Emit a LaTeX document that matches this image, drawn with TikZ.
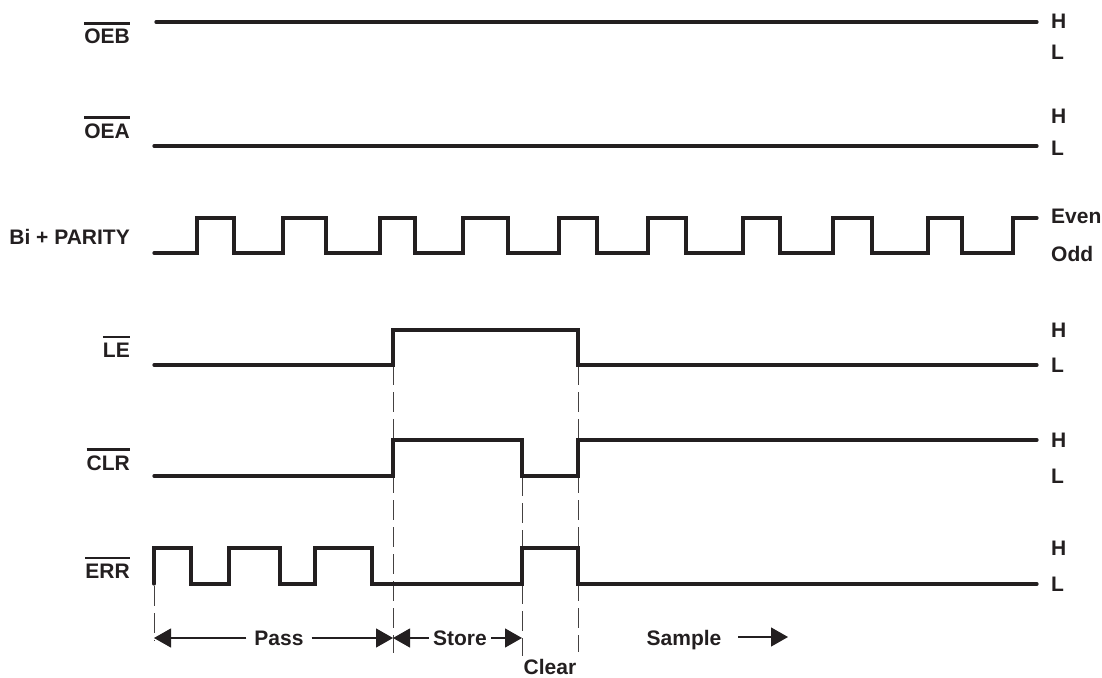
\documentclass[tikz,border=0pt]{standalone}
\usepackage{fontspec}
\setmainfont{Liberation Sans}
\usetikzlibrary{arrows.meta}
\definecolor{ink}{RGB}{35,31,32}
\newcommand\sigbar[1]{\vbox{\hrule height 2.7pt\kern 4.3pt\hbox{#1}}}
\begin{document}
\begin{tikzpicture}[x=1pt,y=-1pt,
  font=\fontsize{21}{25}\selectfont\bfseries, text=ink,
  wave/.style={line width=3.3pt, draw=ink, line cap=round, line join=miter},
  guide/.style={draw=ink!85, line width=1pt, dash pattern=on 20pt off 7pt},
  span/.style={draw=ink, line width=1.2pt},
  tip/.style={-{Triangle[length=17pt,width=19pt]}},
  siglabel/.style={anchor=base east, inner sep=0pt},
  lvl/.style={anchor=west, inner sep=0pt}]
\useasboundingbox (0,0) rectangle (1102,677);

% signal names
\node[siglabel] (oeb) at (130,44) {\sigbar{OEB}};
\node[siglabel] (oea) at (130,138) {\sigbar{OEA}};
\node[siglabel] (bi) at (130,244) {Bi + PARITY};
\node[siglabel] (le) at (130,357) {\sigbar{LE}};
\node[siglabel] (clr) at (130,470) {\sigbar{CLR}};
\node[siglabel] (err) at (130,578) {\sigbar{ERR}};

% level names
\node[lvl] (oebh) at (1051,21) {H};
\node[lvl] (oebl) at (1051,52) {L};
\node[lvl] (oeah) at (1051,116) {H};
\node[lvl] (oeal) at (1051,148) {L};
\node[lvl] (bie) at (1051,216) {Even};
\node[lvl] (bio) at (1051,254) {Odd};
\node[lvl] (leh) at (1051,330) {H};
\node[lvl] (lel) at (1051,365) {L};
\node[lvl] (clrh) at (1051,440) {H};
\node[lvl] (clrl) at (1051,476) {L};
\node[lvl] (errh) at (1051,548) {H};
\node[lvl] (errl) at (1051,584) {L};

% guide lines
\draw[guide] (154,586) -- (154,641);
\draw[guide] (393,365) -- (393,653);
\draw[guide] (522,476) -- (522,656);
\draw[guide] (578,365) -- (578,652);

% waveforms
\draw[wave] (156,22) -- (1037,22);
\draw[wave] (154,146) -- (1037,146);
\draw[wave] (154,253)
  -- (197,253) -- (197,218) -- (234,218) -- (234,253)
  -- (283,253) -- (283,218) -- (326,218) -- (326,253)
  -- (380,253) -- (380,218) -- (415,218) -- (415,253)
  -- (463,253) -- (463,218) -- (508,218) -- (508,253)
  -- (559,253) -- (559,218) -- (597,218) -- (597,253)
  -- (648,253) -- (648,218) -- (686,218) -- (686,253)
  -- (743,253) -- (743,218) -- (780,218) -- (780,253)
  -- (833,253) -- (833,218) -- (872,218) -- (872,253)
  -- (928,253) -- (928,218) -- (962,218) -- (962,253)
  -- (1013,253) -- (1013,218) -- (1037,218);
\draw[wave] (154,365) -- (393,365) -- (393,330) -- (578,330) -- (578,365) -- (1037,365);
\draw[wave] (154,476) -- (393,476) -- (393,440) -- (522,440) -- (522,476)
  -- (578,476) -- (578,440) -- (1037,440);
\draw[wave] (154,584) -- (154,548) -- (191,548) -- (191,584) -- (229,584)
  -- (229,548) -- (280,548) -- (280,584) -- (315,584) -- (315,548)
  -- (372,548) -- (372,584) -- (522,584) -- (522,548) -- (578,548)
  -- (578,584) -- (1037,584);

% phase spans
\coordinate (a0) at (154,638);
\coordinate (a1) at (393,638);
\coordinate (a2) at (522,638);
\node[inner xsep=8pt, inner ysep=0pt] (pass) at (279,638) {Pass};
\draw[span,tip] (pass.west) -- (a0);
\draw[span,tip] (pass.east) -- (a1);
\node[inner xsep=4pt, inner ysep=0pt] (store) at (460,638) {Store};
\draw[span,tip] (store.west) -- (a1);
\draw[span,tip] (store.east) -- (a2);
\node[anchor=base, inner sep=0pt] (clear) at (550,674) {Clear};
\node[anchor=base, inner sep=0pt] (sample) at (684,645) {Sample};
\coordinate (s0) at (738,637);
\coordinate (s1) at (788,637);
\draw[span,tip] (s0) -- (s1);
\end{tikzpicture}
\end{document}
